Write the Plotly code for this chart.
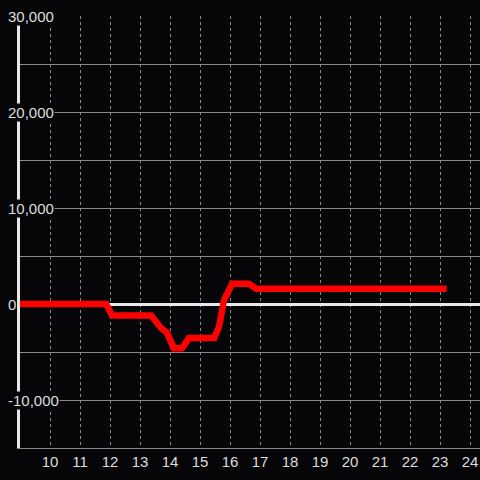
import plotly.graph_objects as go

# Data
x_vals = [9.0, 11.87, 12.07, 13.37, 13.7, 13.9, 14.13, 14.4, 14.63, 15.47, 15.63, 15.8, 16.07, 16.63, 16.87, 23.22]
y_vals = [0, 0, -1200, -1200, -2500, -3000, -4600, -4600, -3550, -3550, -2400, 400, 2100, 2100, 1600, 1600]

x_ticks = list(range(10, 25))
y_label_vals = [30000, 20000, 10000, 0, -10000]
y_label_text = ["30,000", "20,000", "10,000", "0", "-10,000"]

BG = "#060608"
GRID = "#8a8a8a"
TXT = "#dddddd"
FONT = "Liberation Sans, Arial, sans-serif"

fig = go.Figure()
fig.add_trace(go.Scatter(
    x=x_vals, y=y_vals, mode="lines",
    line=dict(color="#ff0000", width=6.5),
    hoverinfo="skip", showlegend=False,
))

for v, t in zip(y_label_vals, y_label_text):
    fig.add_annotation(
        x=0, xref="paper", y=v, yref="y", text=t, showarrow=False,
        xanchor="left", yanchor="middle", xshift=-13,
        font=dict(family=FONT, size=15, color=TXT),
        bgcolor=BG, borderpad=0,
    )

fig.update_layout(
    width=480, height=480,
    margin=dict(l=20, r=0, t=16, b=32),
    paper_bgcolor=BG, plot_bgcolor=BG,
    font=dict(family=FONT, size=15, color=TXT),
    xaxis=dict(
        range=[9.0, 24.33], tickvals=x_ticks, ticktext=[str(v) for v in x_ticks],
        showgrid=True, gridcolor=GRID, gridwidth=1, griddash="dot",
        zeroline=False, showline=True, linecolor=GRID, linewidth=1,
        ticks="", tickfont=dict(size=15, color=TXT),
    ),
    yaxis=dict(
        range=[-15000, 30000], dtick=5000, tick0=0,
        showgrid=True, gridcolor=GRID, gridwidth=1,
        zeroline=True, zerolinecolor="#e8e8e8", zerolinewidth=3,
        showline=True, linecolor="#e8e8e8", linewidth=3,
        showticklabels=False, ticks="",
    ),
)

fig.write_html(
    "out.html",
    config={"displayModeBar": False},
    post_script="document.body.style.margin='0';document.body.style.overflow='hidden';document.body.style.background='#060608';",
)
